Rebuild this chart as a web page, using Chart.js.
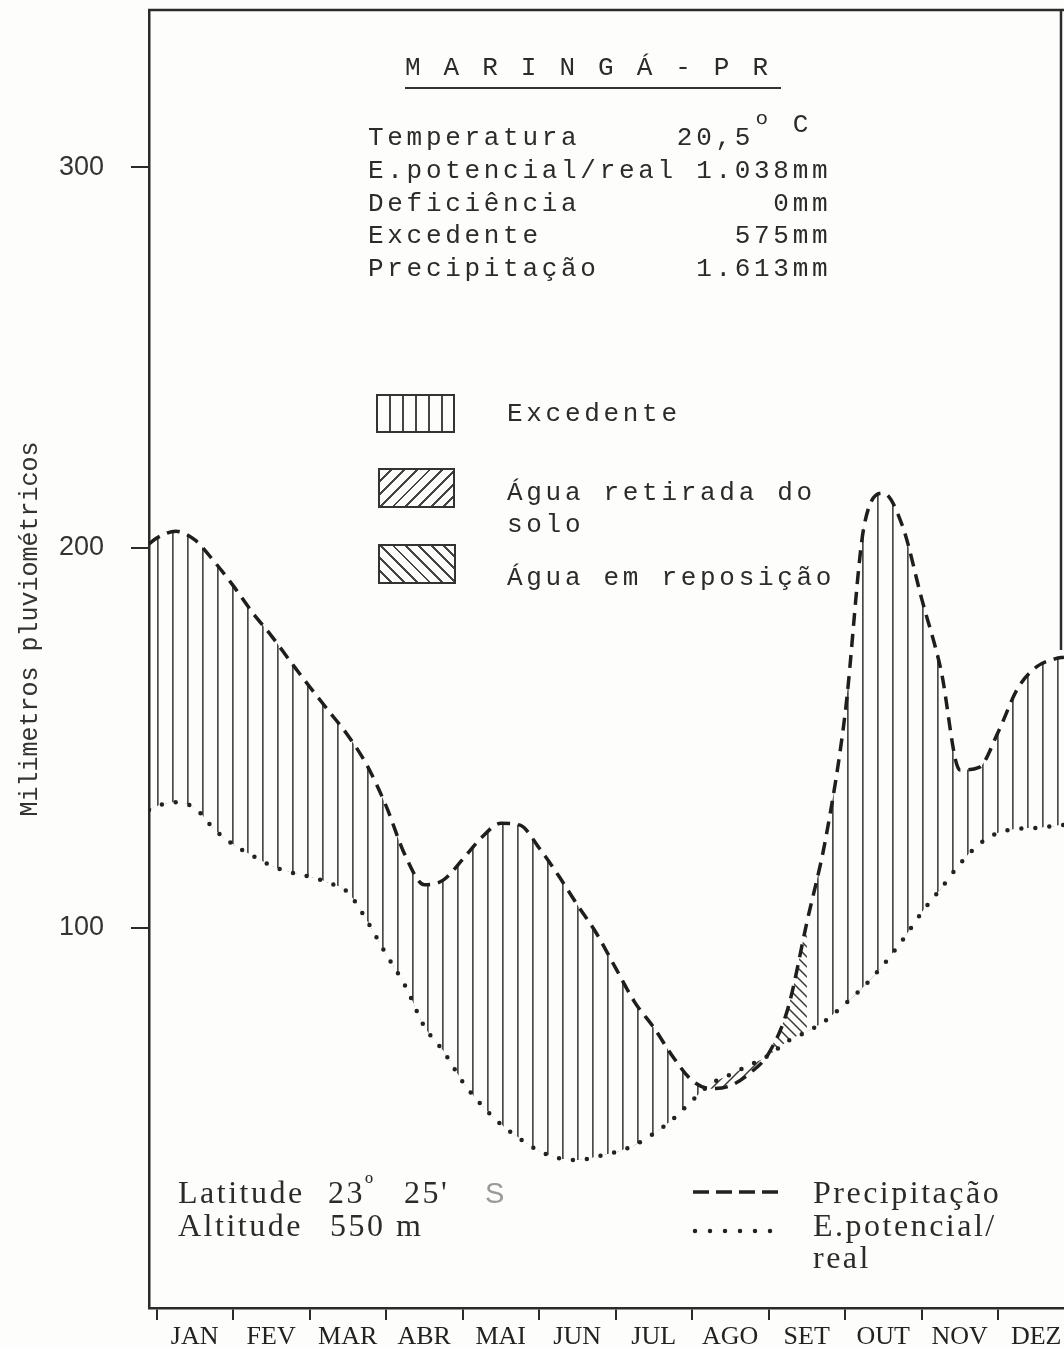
<!DOCTYPE html>
<html>
<head>
<meta charset="utf-8">
<script src="https://cdn.jsdelivr.net/npm/chart.js@4.4.0/dist/chart.umd.min.js"></script>
<style>
  body { margin: 0; background: #fdfdfc; }
  #wrap { position: relative; width: 1064px; height: 1348px; overflow: hidden; }
  #chart { position: absolute; left: 0; top: 0; }
  .mono { position: absolute; font-family: "Liberation Mono", monospace; font-size: 26px; letter-spacing: 3.7px; line-height: 33px; color: #2b2b2b; white-space: pre; }
  .serif { position: absolute; font-family: "Liberation Serif", serif; font-size: 32px; letter-spacing: 2.5px; line-height: 36px; color: #2b2b2b; white-space: pre; }
  .box { position: absolute; border: 2px solid #333; box-sizing: border-box; }
</style>
</head>
<body>
<div id="wrap">
  <canvas id="chart" width="1064" height="1348"></canvas>

  <div class="mono" style="left:405px;top:52px">M A R I N G Á - P R</div>
  <div style="position:absolute;left:405px;top:87px;width:376px;height:2px;background:#333"></div>
  <div class="mono" style="left:368px;top:122px;line-height:32.8px">Temperatura     20,5<span style="position:relative;top:-13px">º C</span>
E.potencial/real 1.038mm
Deficiência          0mm
Excedente          575mm
Precipitação     1.613mm</div>

  <div class="box" style="left:376px;top:394px;width:79px;height:39px;background:repeating-linear-gradient(90deg,transparent 0 11px,#444 11px 13px)"></div>
  <div class="box" style="left:378px;top:468px;width:77px;height:40px;background:repeating-linear-gradient(135deg,transparent 0 7px,#444 7px 9px)"></div>
  <div class="box" style="left:378px;top:544px;width:78px;height:40px;background:repeating-linear-gradient(45deg,transparent 0 7px,#444 7px 9px)"></div>
  <div class="mono" style="left:507px;top:398px">Excedente</div>
  <div class="mono" style="left:507px;top:477px;line-height:32px">Água retirada do
solo</div>
  <div class="mono" style="left:507px;top:562px">Água em reposição</div>

  <div class="serif" style="left:178px;top:1174px">Latitude</div>
  <div class="serif" style="left:328px;top:1174px">23<span style="position:relative;top:-10px;font-size:26px">º</span></div>
  <div class="serif" style="left:404px;top:1174px">25'</div>
  <div style="position:absolute;left:485px;top:1177px;font-family:'Liberation Sans',sans-serif;font-size:29px;color:#9a9a9a">S</div>
  <div class="serif" style="left:178px;top:1207px">Altitude</div>
  <div class="serif" style="left:330px;top:1207px">550 m</div>

  <svg style="position:absolute;left:690px;top:1180px" width="95" height="60">
    <line x1="3" y1="12" x2="89" y2="12" stroke="#222" stroke-width="3.5" stroke-dasharray="16 7"/>
    <line x1="5" y1="51" x2="89" y2="51" stroke="#222" stroke-width="4.5" stroke-linecap="round" stroke-dasharray="0 15"/>
  </svg>
  <div class="serif" style="left:813px;top:1174px">Precipitação</div>
  <div class="serif" style="left:813px;top:1207px">E.potencial/</div>
  <div class="serif" style="left:813px;top:1239px">real</div>
</div>

<script>
const months = ['JAN', 'FEV', 'MAR', 'ABR', 'MAI', 'JUN', 'JUL', 'AGO', 'SET', 'OUT', 'NOV', 'DEZ'];
const yTicks = [100, 200, 300];

// where each reading was taken, in months from the start of January
const monthPos = [-0.1, 0, 0.25, 0.5, 0.75, 1, 1.25, 1.5, 1.75, 2, 2.25, 2.5, 2.75,
  3, 3.25, 3.5, 3.75, 4, 4.25, 4.5, 4.75, 5, 5.25, 5.5, 5.75,
  6, 6.25, 6.5, 6.75, 7, 7.25, 7.5, 7.75, 8, 8.25, 8.5, 8.75,
  9, 9.25, 9.5, 9.75, 10, 10.25, 10.5, 10.75, 11, 11.25, 11.5, 11.75, 11.86];

// precipitation (mm), dashed curve
const precipitacao = [201, 202.5, 204.3, 202, 196.4, 190, 183, 176.8, 170, 163.4, 157, 150.6, 142.7,
  132, 119, 111.3, 112.6, 118, 123.8, 127.5, 127, 121, 113.8, 106, 98.5,
  89.4, 80.4, 73.7, 66, 59.8, 57.7, 58.5, 61.7, 67, 78.7, 101.5, 124,
  156.5, 206, 214.3, 205.6, 186.5, 168, 141.5, 142.2, 151.5, 162.8, 168.6, 170.8, 171.2];

// potential / real evapotranspiration (mm), dotted curve
const evapotranspiracao = [131, 132, 133, 131.5, 126, 121.9, 119, 116.3, 114.6, 113.4, 111.8, 109.3, 101.8,
  93, 84.7, 74, 67.5, 59.5, 53.3, 48.3, 44.5, 41.3, 39.4, 38.9, 39.8,
  41, 42.9, 45.9, 49.7, 54.6, 59, 61.4, 63.9, 66.4, 70.2, 72.7, 75.7,
  80, 84.7, 90.3, 96.8, 104, 110.3, 116.8, 122, 125, 126, 126.3, 126.8, 127.1];

// stretch of the year shaded as "Água em reposição"
const reposicaoFrom = 8;
const reposicaoTo = 8.5;

function hatch(kind) {
  const c = document.createElement('canvas');
  const g = c.getContext('2d');
  if (kind === 'vertical') {
    c.width = 15; c.height = 10;
    g.fillStyle = '#4a4a4a';
    g.fillRect(7, 0, 1.7, 10);
  } else {
    c.width = 10; c.height = 10;
    g.strokeStyle = '#3a3a3a';
    g.lineWidth = 1.5;
    g.beginPath();
    if (kind === 'back') {
      g.moveTo(-2, -2); g.lineTo(12, 12);
      g.moveTo(-7, 3); g.lineTo(7, 17);
      g.moveTo(3, -7); g.lineTo(17, 7);
    } else {
      g.moveTo(-2, 12); g.lineTo(12, -2);
      g.moveTo(-7, 7); g.lineTo(7, -7);
      g.moveTo(3, 17); g.lineTo(17, 3);
    }
    g.stroke();
  }
  return g.createPattern(c, 'repeat');
}

const pts = vals => monthPos.map((x, i) => ({ x: x, y: vals[i] }));
const excedentePts = monthPos.map((x, i) => ({
  x: x,
  y: (x > reposicaoFrom && x < reposicaoTo) ? null : precipitacao[i]
}));
const reposicaoPts = pts(precipitacao).filter(p => p.x >= reposicaoFrom && p.x <= reposicaoTo);

const frame = {
  id: 'frame',
  afterDraw(chart) {
    const { ctx, chartArea: a } = chart;
    ctx.save();
    ctx.strokeStyle = '#2b2b2b';
    ctx.lineWidth = 2.5;
    ctx.beginPath();
    ctx.moveTo(a.left - 1, a.top);
    ctx.lineTo(a.right, a.top);
    ctx.moveTo(a.right - 3, a.top);
    ctx.lineTo(a.right - 3, 650);
    ctx.stroke();
    ctx.restore();
  }
};

Chart.defaults.color = '#2b2b2b';

new Chart(document.getElementById('chart'), {
  type: 'line',
  data: {
    datasets: [
      {
        label: 'Precipitação',
        data: pts(precipitacao),
        borderColor: '#1e1e1e',
        borderWidth: 3.5,
        borderDash: [13, 8],
        fill: false,
        pointRadius: 0,
        cubicInterpolationMode: 'monotone'
      },
      {
        label: 'E.potencial/real',
        data: pts(evapotranspiracao),
        borderColor: '#222',
        borderWidth: 4.5,
        borderDash: [0, 14],
        borderCapStyle: 'round',
        fill: false,
        pointRadius: 0,
        cubicInterpolationMode: 'monotone'
      },
      {
        label: 'Excedente',
        data: excedentePts,
        borderWidth: 0,
        borderColor: 'rgba(0,0,0,0)',
        fill: { target: 1, above: hatch('vertical'), below: hatch('forward') },
        pointRadius: 0,
        cubicInterpolationMode: 'monotone'
      },
      {
        label: 'Água em reposição',
        data: reposicaoPts,
        borderWidth: 0,
        borderColor: 'rgba(0,0,0,0)',
        fill: { target: 1, above: hatch('back'), below: 'rgba(0,0,0,0)' },
        pointRadius: 0,
        cubicInterpolationMode: 'monotone'
      }
    ]
  },
  options: {
    responsive: false,
    animation: false,
    layout: { padding: { top: 10, right: 0, bottom: 0, left: 0 } },
    plugins: { legend: { display: false }, tooltip: { enabled: false } },
    scales: {
      x: {
        type: 'linear',
        min: -0.1,
        max: 11.86,
        afterBuildTicks: s => { s.ticks = months.map((m, i) => ({ value: i })); },
        afterFit: s => { s.height = 40; s.paddingLeft = 0; s.paddingRight = 0; },
        ticks: {
          callback: v => months[Math.round(v)],
          labelOffset: 38,
          padding: 2,
          autoSkip: false,
          maxRotation: 0,
          font: { family: 'Liberation Serif', size: 26 },
          color: '#222'
        },
        grid: { drawOnChartArea: false, tickLength: 12, color: '#2b2b2b', lineWidth: 2 },
        border: { color: '#2b2b2b', width: 2.5 }
      },
      y: {
        min: 0,
        max: 341.4,
        afterBuildTicks: s => { s.ticks = yTicks.map(v => ({ value: v })); },
        afterFit: s => { s.width = 149; s.paddingTop = 0; s.paddingBottom = 0; },
        ticks: { font: { family: 'Liberation Sans', size: 27 }, color: '#333', padding: 27 },
        grid: { drawOnChartArea: false, tickLength: 18, color: '#2b2b2b', lineWidth: 2 },
        border: { color: '#2b2b2b', width: 2.5 },
        title: {
          display: true,
          text: '    Milimetros pluviométricos',
          font: { family: 'Liberation Mono', size: 25 },
          color: '#333',
          padding: { top: 15, bottom: 0 }
        }
      }
    }
  },
  plugins: [frame]
});
</script>
</body>
</html>
